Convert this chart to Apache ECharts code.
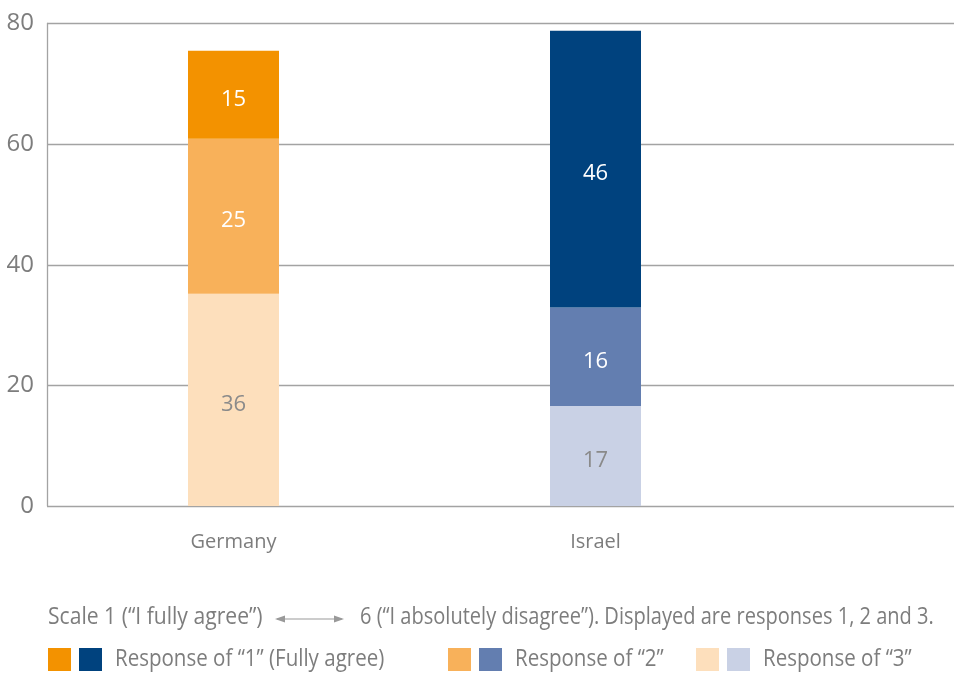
<!DOCTYPE html>
<html>
<head>
<meta charset="utf-8">
<script src="https://cdn.jsdelivr.net/npm/echarts@6/dist/echarts.min.js"></script>
<style>html,body{margin:0;padding:0;background:#fff}#c{width:954px;height:673px}</style>
</head>
<body>
<div id="c"></div>
<script>
// Categories and bar heights as drawn in the reference (percent)
const categories = ['Germany', 'Israel'];
const response1 = [14.6, 45.9];
const response2 = [25.7, 16.3];
const response3 = [35.2, 16.6];
// Printed value labels as shown inside the bars
const labels1 = ['15', '46'];
const labels2 = ['25', '16'];
const labels3 = ['36', '17'];
const yTicks = [0, 20, 40, 60, 80];
const colors1 = ['#F39200', '#00427E'];
const colors2 = ['#F8B15A', '#637EB0'];
const colors3 = ['#FDDFBC', '#C9D1E5'];
const legendNames = ['Response of \u201C1\u201D (Fully agree)', 'Response of \u201C2\u201D', 'Response of \u201C3\u201D'];
const caption1 = 'Scale 1 (\u201CI fully agree\u201D)';
const caption2 = '6 (\u201CI absolutely disagree\u201D). Displayed are responses 1, 2 and 3.';

const FONT = '"Open Sans", sans-serif';
const grey = '#7d7d7d';

function mk(vals, cols, labelColor) {
  return vals.map((v, i) => ({ value: v, itemStyle: { color: cols[i] }, label: { color: labelColor[i] } }));
}

const chart = echarts.init(document.getElementById('c'), null, { renderer: 'canvas' });
const seriesCommon = {
  type: 'bar', stack: 's', xAxisIndex: 1, yAxisIndex: 1, barWidth: 91,
  label: { show: true, position: 'inside', fontFamily: FONT, fontSize: 22, offset: [0, 5] },
  emphasis: { disabled: true }
};
const legendItems = [];
const legendX = [48, 448, 696];
const legendTextX = [115, 515, 763];
const legCols = [[colors1[0], colors1[1]], [colors2[0], colors2[1]], [colors3[0], colors3[1]]];
legendX.forEach((x, i) => {
  legendItems.push({ type: 'rect', shape: { x: x, y: 648, width: 23, height: 23 }, style: { fill: legCols[i][0] } });
  legendItems.push({ type: 'rect', shape: { x: x + 31, y: 648, width: 23, height: 23 }, style: { fill: legCols[i][1] } });
  legendItems.push({ type: 'text', x: legendTextX[i], y: 659, scaleX: 0.855,
    style: { text: legendNames[i], fill: grey, font: '24px ' + FONT, verticalAlign: 'middle', align: 'left' } });
});

chart.setOption({
  animation: false,
  grid: [
    { left: 47, right: 0, top: 23.5, bottom: 167 },
    { left: 52.5, width: 724, top: 23.5, bottom: 167 }
  ],
  xAxis: [
    { gridIndex: 0, type: 'category', data: ['a'], show: false },
    { gridIndex: 1, type: 'category', data: categories,
      axisLine: { show: false }, axisTick: { show: false },
      axisLabel: { color: grey, fontFamily: FONT, fontSize: 20, margin: 26 } }
  ],
  yAxis: [
    { gridIndex: 0, type: 'value', min: 0, max: 80, interval: 20,
      axisLine: { show: true, lineStyle: { color: '#a3a3a3', width: 1.3 } },
      axisTick: { show: false },
      splitLine: { show: true, lineStyle: { color: '#a3a3a3', width: 1.3 } },
      axisLabel: { color: grey, fontFamily: FONT, fontSize: 24, margin: 13,
        formatter: v => yTicks.includes(v) ? String(v) : '' } },
    { gridIndex: 1, type: 'value', min: 0, max: 80, interval: 20, show: false, splitLine: { show: false } }
  ],
  series: [
    Object.assign({}, seriesCommon, { name: 'r3', data: mk(response3, colors3, ['#8a8a8a', '#8a8a8a']),
      label: Object.assign({}, seriesCommon.label, { formatter: p => labels3[p.dataIndex] }) }),
    Object.assign({}, seriesCommon, { name: 'r2', data: mk(response2, colors2, ['#ffffff', '#ffffff']),
      label: Object.assign({}, seriesCommon.label, { formatter: p => labels2[p.dataIndex] }) }),
    Object.assign({}, seriesCommon, { name: 'r1', data: mk(response1, colors1, ['#ffffff', '#ffffff']),
      label: Object.assign({}, seriesCommon.label, { formatter: p => labels1[p.dataIndex] }) })
  ],
  graphic: [
    { type: 'text', x: 48, y: 617, scaleX: 0.88,
      style: { text: caption1, fill: grey, font: '24px ' + FONT, verticalAlign: 'middle', align: 'left' } },
    { type: 'line', shape: { x1: 277, y1: 619, x2: 342, y2: 619 }, style: { stroke: '#999', lineWidth: 1.2 } },
    { type: 'polygon', shape: { points: [[275, 619], [285, 615.5], [285, 622.5]] }, style: { fill: '#999' } },
    { type: 'polygon', shape: { points: [[344, 619], [334, 615.5], [334, 622.5]] }, style: { fill: '#999' } },
    { type: 'text', x: 360, y: 617, scaleX: 0.835,
      style: { text: caption2, fill: grey, font: '24px ' + FONT, verticalAlign: 'middle', align: 'left' } }
  ].concat(legendItems)
});
</script>
</body>
</html>
